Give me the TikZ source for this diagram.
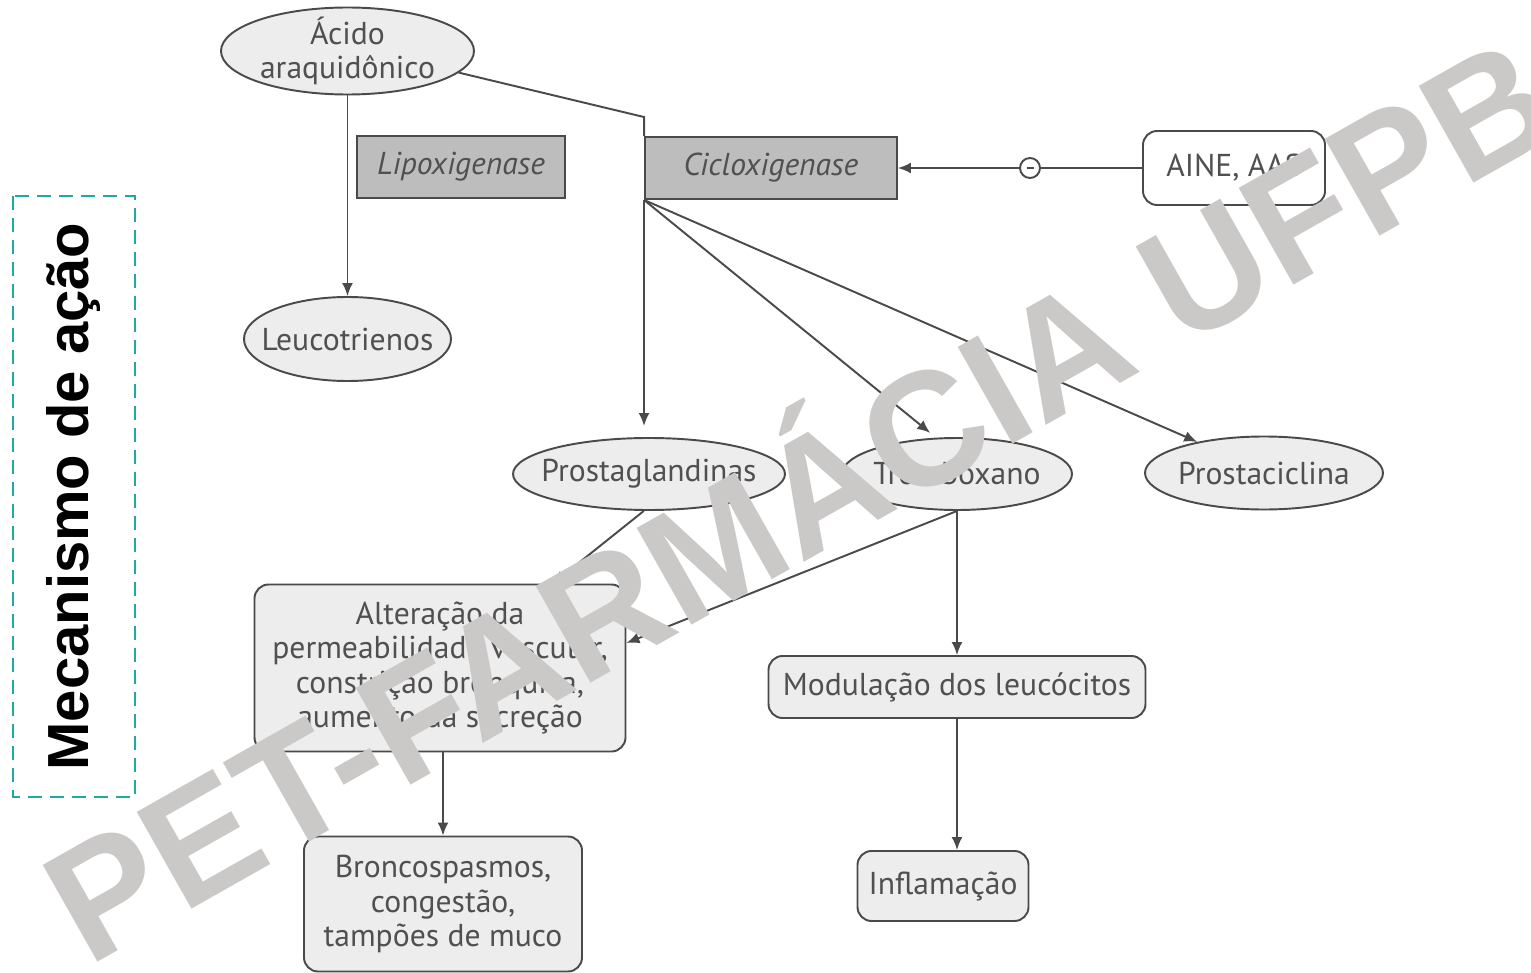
\documentclass[tikz,border=0pt]{standalone}
\usepackage{fontspec}
\setmainfont{PT Sans}
\newfontfamily\marcafont{Liberation Sans}
\usepackage{tikz}
\usetikzlibrary{arrows.meta,positioning,shapes.geometric,calc}
\definecolor{contorno}{HTML}{4A4A4A}
\definecolor{texto}{HTML}{505050}
\definecolor{claro}{HTML}{EDEDED}
\definecolor{enzcinza}{HTML}{BDBDBD}
\definecolor{turquesa}{HTML}{1FA9A6}
\definecolor{marca}{HTML}{CBC8C8}

\begin{document}
\begin{tikzpicture}[
		base/.style={draw=contorno,line width=1.1pt,text=texto,align=center,font=\fontsize{18}{19.5}\selectfont},
		elipse/.style={base,ellipse,fill=claro,inner xsep=-0.6cm,inner ysep=-0.15cm},
		enzima/.style={base,fill=enzcinza,font=\fontsize{18}{19.5}\selectfont\itshape},
		caixa/.style={base,rounded corners=8pt,fill=claro,inner sep=1pt},
		linha/.style={draw=contorno,line width=1.1pt},
		seta/.style={linha,-{Latex[length=2.6mm,width=2.2mm]}}
		]
		\useasboundingbox (0,0) rectangle (30.62,-19.46);
		\node[rotate=90,draw=turquesa,dash pattern=on 0.28cm off 0.16cm,line width=1.7pt,minimum width=12.02cm,minimum height=2.44cm,font=\marcafont\bfseries\fontsize{33}{33}\selectfont] (titulo) at (1.48,-9.93) {Mecanismo de ação};
		\node[elipse,minimum width=5.06cm,minimum height=1.74cm] (acido) at (6.95,-1.02) {Ácido\\araquidônico};
		\node[enzima,minimum width=4.16cm,minimum height=1.24cm] (lipox) at (9.22,-3.34) {Lipoxigenase};
		\node[enzima,minimum width=5.04cm,minimum height=1.24cm] (ciclox) at (15.42,-3.36) {Cicloxigenase};
		\node[caixa,fill=white,minimum width=3.64cm,minimum height=1.48cm] (aine) at (24.68,-3.36) {AINE, AAS};
		\node[circle,linha,fill=white,minimum size=0.4cm,inner sep=0pt] (inib) at (20.6,-3.36) {};
		\draw[contorno,line width=0.8pt] ([xshift=-0.07cm]inib.center) -- ([xshift=0.07cm]inib.center);
		\node[elipse,minimum width=4.14cm,minimum height=1.68cm] (leuco) at (6.95,-6.78) {Leucotrienos};
		\node[elipse,minimum width=5.44cm,minimum height=1.44cm] (pgs) at (12.98,-9.48) {Prostaglandinas};
		\node[elipse,minimum width=4.6cm,minimum height=1.44cm] (txa) at (19.14,-9.48) {Tromboxano};
		\node[elipse,minimum width=4.76cm,minimum height=1.46cm] (pgi) at (25.28,-9.46) {Prostaciclina};
		\node[caixa,minimum width=7.42cm,minimum height=3.34cm] (alter) at (8.8,-13.36) {Alteração da\\permeabilidade vascular,\\constrição brônquica,\\aumento da secreção};
		\node[caixa,minimum width=5.56cm,minimum height=2.7cm] (bronco) at (8.86,-18.08) {Broncospasmos,\\congestão,\\tampões de muco};
		\node[caixa,minimum width=7.54cm,minimum height=1.24cm] (modul) at (19.14,-13.74) {Modulação dos leucócitos};
		\node[caixa,minimum width=3.42cm,minimum height=1.4cm] (inflam) at (18.86,-17.72) {Inflamação};
		% ligacoes
		\coordinate (dobra) at ($(ciclox.north west)+(0,0.38)$);
		\draw[seta] (acido.south) -- (leuco.north);
		\draw[linha] (acido.-11) -- (dobra) -- (ciclox.north west);
		\draw[seta,shorten >=0.22cm] (ciclox.south west) -- (ciclox.south west |- pgs.north);
		\draw[seta,shorten >=0.15cm] (ciclox.south west) -- (txa.120);
		\draw[seta] (ciclox.south west) -- (pgi.155);
		\draw[linha] (aine.west) -- (inib);
		\draw[seta] (inib) -- (ciclox.east);
		\draw[seta] (pgs.262) -- ([xshift=2.26cm]alter.north);
		\draw[seta] (txa.south) -- ([yshift=0.5cm]alter.east);
		\draw[seta] (txa.south) -- (modul.north);
		\draw[seta] (modul.south) -- (modul.south |- inflam.north);
		\draw[seta] (bronco.north |- alter.south) -- (bronco.north);
		% marca d'agua
		\node[rotate=29.5,text=marca,font=\marcafont\bfseries\fontsize{92}{92}\selectfont,inner sep=0pt] (marcadagua) at (15.85,-9.75) {PET-FARMÁCIA UFPB};
	\end{tikzpicture}
\end{document}
